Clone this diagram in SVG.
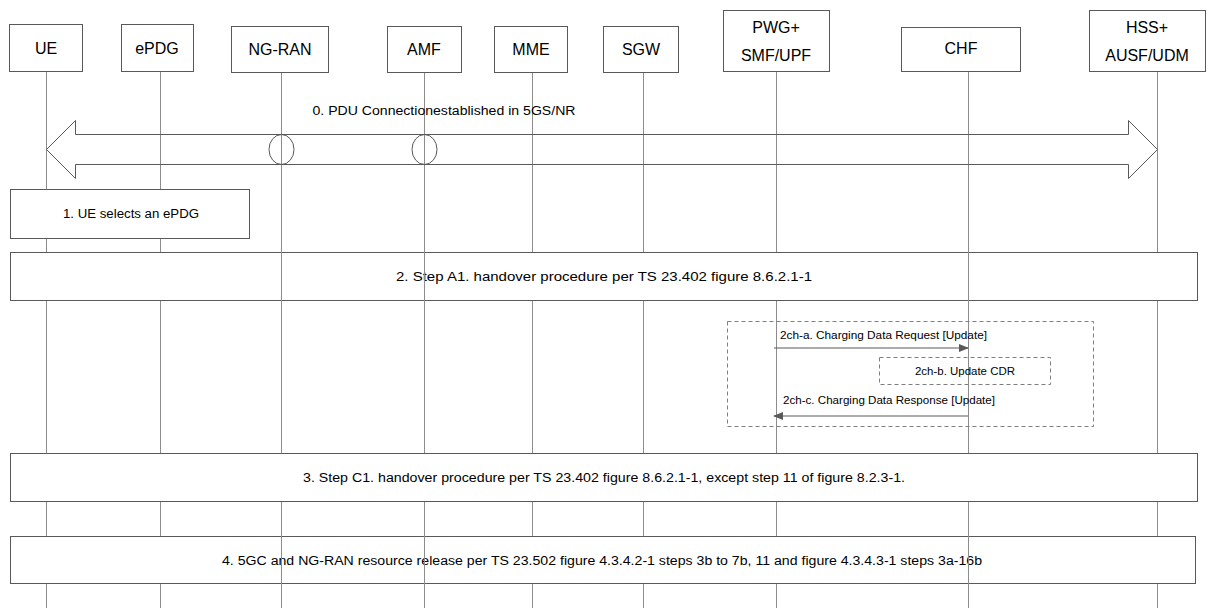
<svg xmlns="http://www.w3.org/2000/svg" width="1207" height="608" viewBox="0 0 1207 608">
<style>
.nb{fill:#fff;stroke:#595959;stroke-width:1}
.nt{font-family:"Liberation Sans",Arial,sans-serif;font-size:16px;fill:#000;text-anchor:middle;dominant-baseline:central}
.ll{stroke:#8c8c8c;stroke-width:1;fill:none}
.st{fill:#fff;stroke:#595959;stroke-width:1}
.tx{font-family:"Liberation Sans",Arial,sans-serif;font-size:12px;fill:#000;text-anchor:middle;dominant-baseline:central}
.sm{font-family:"Liberation Sans",Arial,sans-serif;font-size:10px;fill:#000;dominant-baseline:central}
.dash{fill:none;stroke:#7f7f7f;stroke-width:1;stroke-dasharray:4 3}
.big{fill:none;stroke:#595959;stroke-width:1}
.msg{stroke:#595959;stroke-width:1;fill:none}
</style>
<defs>
<marker id="ah" markerWidth="10" markerHeight="8" refX="9" refY="4" orient="auto" markerUnits="userSpaceOnUse">
<path d="M0,0 L10,4 L0,8 z" fill="#595959"/>
</marker>
</defs>

<g id="lifelines-back">
<line class="ll" x1="46.5" y1="71" x2="46.5" y2="608"/>
<line class="ll" x1="160.5" y1="71" x2="160.5" y2="608"/>
<line class="ll" x1="532.5" y1="72" x2="532.5" y2="608"/>
<line class="ll" x1="643.5" y1="72" x2="643.5" y2="608"/>
<line class="ll" x1="776.5" y1="71" x2="776.5" y2="608"/>
<line class="ll" x1="1157.5" y1="71" x2="1157.5" y2="608"/>
</g>

<g id="step2">
<rect class="st" x="10.5" y="252.5" width="1187" height="48"/>
<text class="tx" x="604" y="277" textLength="416" lengthAdjust="spacingAndGlyphs">2. Step A1. handover procedure per TS 23.402 figure 8.6.2.1-1</text>
</g>
<g id="step4">
<rect class="st" x="10.5" y="536.5" width="1185" height="47"/>
<text class="tx" x="602" y="561" textLength="760" lengthAdjust="spacingAndGlyphs">4. 5GC and NG-RAN resource release per TS 23.502 figure 4.3.4.2-1 steps 3b to 7b, 11 and figure 4.3.4.3-1 steps 3a-16b</text>
</g>

<g id="lifelines-front">
<line class="ll" x1="281.5" y1="72" x2="281.5" y2="608"/>
<line class="ll" x1="424.5" y1="72" x2="424.5" y2="608"/>
<line class="ll" x1="968.5" y1="71" x2="968.5" y2="608"/>
</g>

<g id="UE"><rect class="nb" x="9.5" y="24.5" width="73" height="47"/><text class="nt" x="46" y="48">UE</text></g>
<g id="ePDG"><rect class="nb" x="121.5" y="24.5" width="72" height="47"/><text class="nt" x="157" y="48">ePDG</text></g>
<g id="NG-RAN"><rect class="nb" x="231.5" y="26.5" width="97" height="46"/><text class="nt" x="280" y="49">NG-RAN</text></g>
<g id="AMF"><rect class="nb" x="387.5" y="26.5" width="74" height="46"/><text class="nt" x="424" y="49">AMF</text></g>
<g id="MME"><rect class="nb" x="494.5" y="26.5" width="73" height="46"/><text class="nt" x="531" y="49">MME</text></g>
<g id="SGW"><rect class="nb" x="603.5" y="26.5" width="75" height="46"/><text class="nt" x="641" y="49">SGW</text></g>
<g id="PWG"><rect class="nb" x="723.5" y="10.5" width="106" height="61"/><text class="nt" x="776" y="27">PWG+</text><text class="nt" x="776" y="55">SMF/UPF</text></g>
<g id="CHF"><rect class="nb" x="901.5" y="27.5" width="119" height="44"/><text class="nt" x="961" y="48">CHF</text></g>
<g id="HSS"><rect class="nb" x="1089.5" y="10.5" width="116" height="61"/><text class="nt" x="1147" y="27">HSS+</text><text class="nt" x="1147" y="55">AUSF/UDM</text></g>

<g id="step0">
<text class="tx" x="444" y="111" textLength="263" lengthAdjust="spacingAndGlyphs">0. PDU Connectionestablished in 5GS/NR</text>
</g>

<g id="step1">
<rect class="st" x="10.5" y="189.5" width="239" height="49"/>
<text class="tx" x="131" y="214" textLength="136" lengthAdjust="spacingAndGlyphs">1. UE selects an ePDG</text>
</g>

<g id="step3">
<rect class="st" x="10.5" y="453.5" width="1187" height="48"/>
<text class="tx" x="604" y="478" textLength="602" lengthAdjust="spacingAndGlyphs">3. Step C1. handover procedure per TS 23.402 figure 8.6.2.1-1, except step 11 of figure 8.2.3-1.</text>
</g>

<g id="charging">
<rect class="dash" x="727.5" y="321.5" width="366" height="105"/>
<g id="step2ch-b">
<rect class="dash" x="879.5" y="357.5" width="171" height="27"/>
</g>
</g>

<g id="connectors">
<path class="big" d="M46.5,149.5 L75.5,120.5 L75.5,134.5 L1128.5,134.5 L1128.5,120.5 L1157.5,149.5 L1128.5,178.5 L1128.5,164.5 L75.5,164.5 L75.5,178.5 Z"/>
<ellipse class="big" cx="281.5" cy="149.5" rx="12.5" ry="15"/>
<ellipse class="big" cx="424.5" cy="149.5" rx="12.5" ry="15"/>
<line class="msg" x1="774" y1="348" x2="968" y2="348" marker-end="url(#ah)"/>
<line class="msg" x1="968" y1="416" x2="774" y2="416" marker-end="url(#ah)"/>
</g>

<g id="labels">
<text class="sm" x="780" y="335" textLength="207" lengthAdjust="spacingAndGlyphs">2ch-a. Charging Data Request [Update]</text>
<text class="sm" x="915" y="371" textLength="100" lengthAdjust="spacingAndGlyphs">2ch-b. Update CDR</text>
<text class="sm" x="783" y="400" textLength="212" lengthAdjust="spacingAndGlyphs">2ch-c. Charging Data Response [Update]</text>
</g>
</svg>
